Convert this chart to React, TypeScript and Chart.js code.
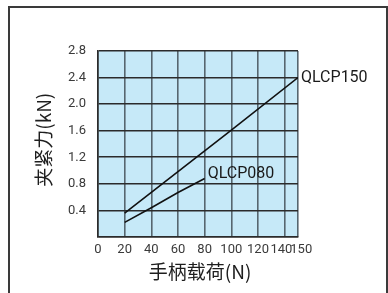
import React, { useEffect, useRef } from 'react';
import { Chart, registerables } from 'chart.js';
Chart.register(...registerables);

const load150 = [20, 100, 150];
const force150 = [0.36, 1.61, 2.4];
const load080 = [20, 40, 60, 80];
const force080 = [0.22, 0.44, 0.67, 0.88];
const seriesNames = ['QLCP150', 'QLCP080'];
const xTickValues = [0, 20, 40, 60, 80, 100, 120, 140, 150];
const yTickValues = [0, 0.4, 0.8, 1.2, 1.6, 2.0, 2.4, 2.8];
const xTitle = ' 手柄载荷(N)';
const yTitle = '  夹紧力(kN)';

const TICK_FONT = { family: 'Roboto, "Liberation Sans", sans-serif', size: 13 };
const TITLE_FONT = { family: '"Noto Sans CJK SC", sans-serif', size: 19 };

const decoPlugin = {
  id: 'deco',
  beforeDraw(chart: any) {
    const { ctx, chartArea } = chart;
    ctx.save();
    ctx.fillStyle = '#c6e9f8';
    ctx.fillRect(chartArea.left, chartArea.top, chartArea.right - chartArea.left, chartArea.bottom - chartArea.top);
    ctx.restore();
  },
  afterDatasetsDraw(chart: any) {
    const { ctx } = chart;
    ctx.save();
    ctx.font = '16px Roboto, "Liberation Sans", sans-serif';
    ctx.fillStyle = '#1a1a1a';
    ctx.textAlign = 'left';
    ctx.textBaseline = 'middle';
    chart.data.datasets.forEach((ds: any, i: number) => {
      const meta = chart.getDatasetMeta(i);
      const last = meta.data[meta.data.length - 1];
      const dy = i === 0 ? 0 : -5;
      ctx.fillText(ds.label, last.x + 3, last.y + dy);
    });
    ctx.restore();
  },
};

export default function App() {
  const ref = useRef<HTMLCanvasElement | null>(null);
  useEffect(() => {
    if (!ref.current) return;
    const chart = new Chart(ref.current, {
      type: 'scatter',
      data: {
        datasets: [
          {
            label: seriesNames[0],
            data: load150.map((x, i) => ({ x, y: force150[i] })),
            showLine: true,
            borderColor: '#111',
            borderWidth: 1.6,
            pointRadius: 0,
            fill: false,
          },
          {
            label: seriesNames[1],
            data: load080.map((x, i) => ({ x, y: force080[i] })),
            showLine: true,
            borderColor: '#111',
            borderWidth: 1.6,
            pointRadius: 0,
            fill: false,
          },
        ],
      },
      options: {
        animation: false,
        responsive: false,
        maintainAspectRatio: false,
        layout: { padding: { top: 51, right: 90, left: 0, bottom: 0 } },
        plugins: { legend: { display: false }, tooltip: { enabled: false } },
        scales: {
          x: {
            type: 'linear',
            min: 0,
            max: 150,
            afterBuildTicks: (s: any) => { s.ticks = xTickValues.map((v) => ({ value: v })); },
            afterFit: (s: any) => { s.height = 56; },
            ticks: {
              autoSkip: false,
              maxRotation: 0,
              minRotation: 0,
              padding: 5,
              color: '#3a3a3a',
              font: TICK_FONT,
              callback: (v: any) => {
                const n = Number(v);
                if (n === 140) return n + '  ';
                if (n === 150) return '  ' + n;
                return String(n);
              },
            },
            grid: { color: '#56666f', lineWidth: 1.6, drawTicks: false },
            border: { color: '#2b2b2b', width: 1.6 },
            title: { display: true, text: xTitle, color: '#1e1e1e', font: TITLE_FONT, padding: { top: 0, bottom: 10 } },
          },
          y: {
            type: 'linear',
            min: 0,
            max: 2.8,
            afterBuildTicks: (s: any) => { s.ticks = yTickValues.map((v) => ({ value: v })); },
            afterFit: (s: any) => { s.width = 98; },
            ticks: {
              padding: 12,
              color: '#3a3a3a',
              font: TICK_FONT,
              callback: (v: any) => (Number(v) === 0 ? '' : Number(v).toFixed(1)),
            },
            grid: { color: '#2b2b2b', lineWidth: 1.6, drawTicks: false },
            border: { color: '#2b2b2b', width: 1.6 },
            title: { display: true, text: yTitle, color: '#1e1e1e', font: TITLE_FONT, padding: { top: 32, bottom: 0 } },
          },
        },
      },
      plugins: [decoPlugin],
    } as any);
    return () => chart.destroy();
  }, []);
  return (
    <div style={{ position: 'absolute', left: 0, top: 0, width: 388, height: 293, overflow: 'hidden', background: '#fff' }}>
      <div style={{ position: 'absolute', left: 8, top: 6, width: 376, height: 320, border: '2px solid #3a3a3a' }} />
      <canvas ref={ref} width={388} height={293} style={{ position: 'absolute', left: 0, top: 0, width: 388, height: 293 }} />
    </div>
  );
}
